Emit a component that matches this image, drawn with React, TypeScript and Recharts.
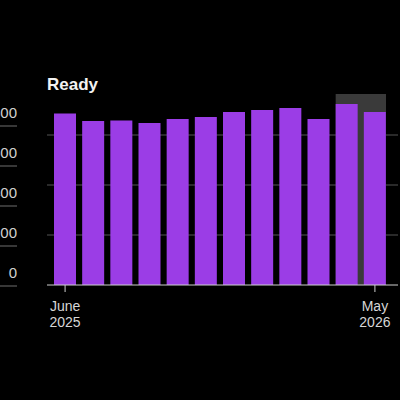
import React from 'react';
import { BarChart, Bar, LineChart, Line, XAxis, YAxis, CartesianGrid, ReferenceArea } from 'recharts';

// Monthly categories, June 2025 .. May 2026
const months = ['Jun 2025', 'Jul 2025', 'Aug 2025', 'Sep 2025', 'Oct 2025', 'Nov 2025', 'Dec 2025', 'Jan 2026', 'Feb 2026', 'Mar 2026', 'Apr 2026', 'May 2026'];
const readyValues = [343, 328, 329, 324, 332, 336, 346, 350, 354, 332, 362, 346];
const readyTicks = [0, 100, 200, 300];
const readyMax = 380;
const xTicks = ['Jun 2025', 'May 2026'];
const xTickLabels: Record<string, [string, string]> = {
  'Jun 2025': ['June', '2025'],
  'May 2026': ['May', '2026'],
};
const highlightFrom = 'Apr 2026';
const highlightTo = 'May 2026';

// neighbouring panel on the left (only the ends of its axis labels show)
const leftTicks = [0, 200, 400, 600, 800];

const data = months.map((m, i) => ({ month: m, ready: readyValues[i] }));

const FONT = '"Liberation Sans", Arial, sans-serif';
const PURPLE = '#9b3de6';

const MonthTick = (props: any) => {
  const { x, y, payload } = props;
  const lines = xTickLabels[payload.value] || [payload.value, ''];
  return (
    <g>
      <text x={x} y={y + 17} textAnchor="middle" fill="#d6d6d6" fontSize={14} fontFamily={FONT}>{lines[0]}</text>
      <text x={x} y={y + 33} textAnchor="middle" fill="#d6d6d6" fontSize={14} fontFamily={FONT}>{lines[1]}</text>
    </g>
  );
};

const LeftTick = (props: any) => {
  const { x, y, payload } = props;
  return (
    <text x={x} y={y - 8} textAnchor="end" fill="#d0d0d0" fontSize={15} fontFamily={FONT}>
      {payload.value}
    </text>
  );
};

// grey box sits flush with the outer edges of the two highlighted bars
const HighlightBox = (p: any) => (
  <rect x={p.x + 3} y={p.y - 1} width={p.width - 6} height={p.height + 1} fill="#3a3a3a" />
);

// only the inner gridlines (baseline comes from the x axis)
const gridRows = (p: any) => {
  const inner = readyTicks.filter((t) => t > 0);
  const sc = p && p.yAxis && p.yAxis.scale;
  if (typeof sc === 'function') return inner.map((t) => sc(t));
  const { top, height } = p.offset;
  return inner.map((t) => top + height * (1 - t / readyMax));
};

export default function App() {
  return (
    <div style={{ position: 'absolute', left: 0, top: 0, width: 400, height: 400, background: '#000', overflow: 'hidden' }}>
      <div style={{ position: 'absolute', left: -163, top: 0 }}>
        <LineChart width={200} height={400} data={data} margin={{ top: 126, right: 0, bottom: 114, left: 0 }}>
          <CartesianGrid horizontal vertical={false} stroke="#6e6e6e" />
          <XAxis dataKey="month" hide />
          <YAxis
            orientation="right"
            width={20}
            domain={[0, 800]}
            allowDataOverflow
            ticks={leftTicks}
            tick={<LeftTick />}
            tickLine={false}
            axisLine={false}
            tickSize={0}
            tickMargin={0}
          />
          <Line dataKey="ready" stroke="none" dot={false} isAnimationActive={false} />
        </LineChart>
      </div>
      <div style={{ position: 'absolute', left: 0, top: 0 }}>
        <BarChart width={400} height={400} data={data} margin={{ top: 95, right: 2, bottom: 75, left: 47 }}>
          <ReferenceArea x1={highlightFrom} x2={highlightTo} ifOverflow="visible" shape={HighlightBox} />
          <CartesianGrid horizontal vertical={false} stroke="#555" horizontalCoordinatesGenerator={gridRows} />
          <XAxis
            dataKey="month"
            ticks={xTicks}
            interval={0}
            height={40}
            padding={{ left: 4, right: 9 }}
            tick={<MonthTick />}
            tickSize={7}
            tickLine={{ stroke: '#cfcfcf' }}
            axisLine={{ stroke: '#cfcfcf' }}
          />
          <YAxis width={0} domain={[0, readyMax]} allowDataOverflow ticks={readyTicks} tickLine={false} axisLine={false} tick={{ fontSize: 0 }} />
          <Bar dataKey="ready" fill={PURPLE} barSize={22} isAnimationActive={false} />
          <text x={47} y={90} fill="#f2f2f2" fontSize={17} fontWeight={600} fontFamily={FONT}>Ready</text>
        </BarChart>
      </div>
    </div>
  );
}
